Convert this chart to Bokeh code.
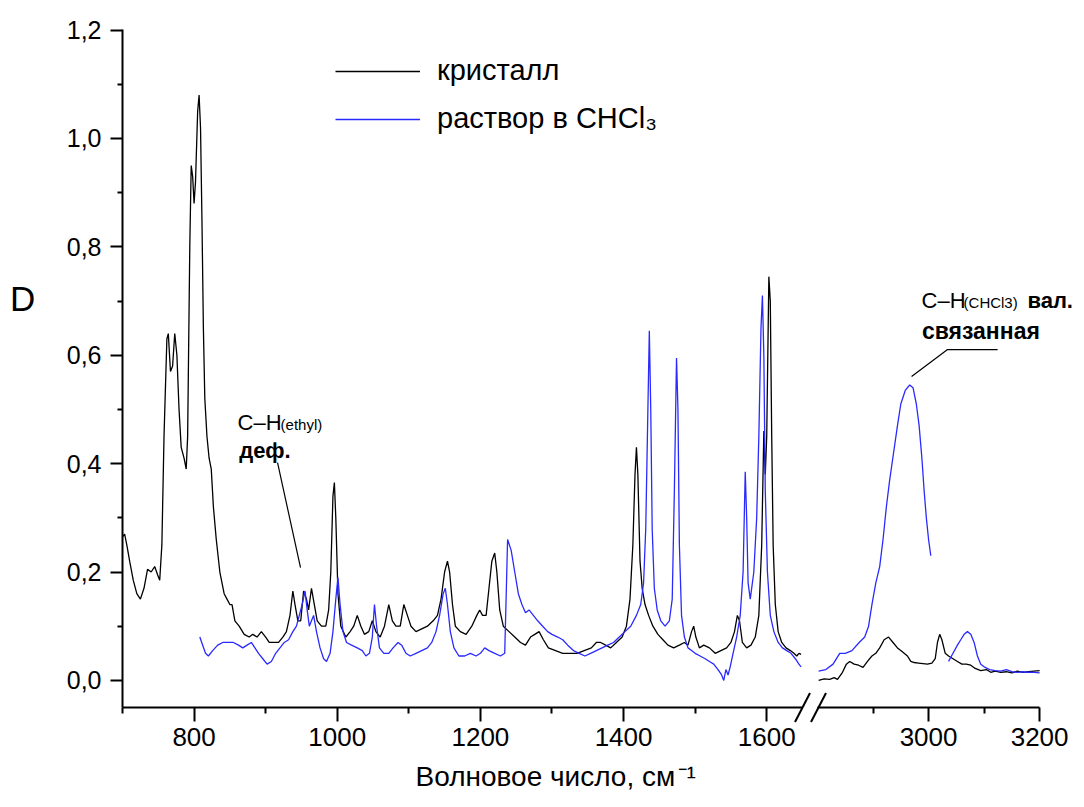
import math
from bokeh.plotting import figure
from bokeh.models import (Range1d, FixedTicker, CustomJSTickFormatter, Label, Legend, LegendItem,
                          Title, Div)
from bokeh.layouts import row
from bokeh.embed import file_html
from bokeh.resources import INLINE

NaN = float("nan")
FONT = "Liberation Sans"

# ---------------- data ----------------
black_left_wn = [700, 703, 706, 710, 715, 720, 725, 730, 735, 740, 745, 749, 752, 755, 758, 762, 764, 767, 770,
                 773, 776, 779, 782, 786, 789, 791, 794, 796, 798, 800, 802, 805, 807, 809, 811, 813, 815, 818,
                 821, 824, 827, 831, 836, 842, 846, 850, 853, 857, 863, 870, 877, 882, 888, 894, 900, 905, 912,
                 918, 924, 929, 934, 938, 941, 945, 949, 953, 957, 960, 964, 968, 972, 978, 984, 988, 991, 994,
                 996, 998, 1001, 1005, 1012, 1018, 1023, 1028, 1033, 1038, 1044, 1049, 1054, 1060, 1066, 1072,
                 1077, 1082, 1088, 1093, 1098, 1103, 1110, 1118, 1126, 1134, 1140, 1145, 1150, 1154, 1157, 1161,
                 1165, 1172, 1180, 1188, 1195, 1199, 1203, 1208, 1212, 1216, 1220, 1223, 1227, 1232, 1240, 1248,
                 1256, 1263, 1270, 1276, 1282, 1288, 1295, 1305, 1315, 1325, 1335, 1345, 1355, 1362, 1368, 1375,
                 1382, 1390, 1398, 1404, 1409, 1413, 1416, 1418, 1420, 1423, 1426, 1430, 1435, 1441, 1448, 1455,
                 1462, 1470, 1478, 1485, 1490, 1495, 1498, 1501, 1506, 1512, 1520, 1528, 1536, 1544, 1550, 1555,
                 1559, 1562, 1566, 1572, 1578, 1584, 1589, 1593, 1596, 1598, 1600, 1603, 1605, 1607, 1609, 1612,
                 1616, 1621, 1627, 1633, 1638, 1642, 1645, 1648]
black_left_d = [0.265, 0.27, 0.25, 0.22, 0.185, 0.16, 0.15, 0.17, 0.205, 0.2, 0.21, 0.195, 0.185, 0.25, 0.45, 0.63,
                0.64, 0.57, 0.58, 0.64, 0.6, 0.5, 0.43, 0.41, 0.39, 0.45, 0.8, 0.95, 0.93, 0.88, 0.92, 1.05, 1.08,
                1.02, 0.85, 0.65, 0.52, 0.45, 0.41, 0.39, 0.32, 0.26, 0.2, 0.16, 0.15, 0.14, 0.14, 0.11, 0.1,
                0.085, 0.08, 0.085, 0.08, 0.09, 0.08, 0.07, 0.07, 0.07, 0.08, 0.09, 0.12, 0.165, 0.14, 0.11, 0.11,
                0.165, 0.15, 0.13, 0.17, 0.14, 0.11, 0.1, 0.1, 0.13, 0.2, 0.34, 0.365, 0.3, 0.16, 0.1, 0.08, 0.09,
                0.1, 0.12, 0.1, 0.085, 0.09, 0.11, 0.09, 0.08, 0.1, 0.14, 0.11, 0.1, 0.1, 0.14, 0.12, 0.1, 0.09,
                0.095, 0.1, 0.11, 0.12, 0.15, 0.2, 0.22, 0.2, 0.14, 0.1, 0.09, 0.085, 0.1, 0.12, 0.13, 0.12, 0.12,
                0.17, 0.22, 0.235, 0.2, 0.13, 0.1, 0.09, 0.08, 0.07, 0.065, 0.08, 0.085, 0.09, 0.075, 0.06, 0.055,
                0.05, 0.05, 0.05, 0.055, 0.06, 0.07, 0.07, 0.065, 0.06, 0.07, 0.08, 0.1, 0.15, 0.25, 0.38, 0.43,
                0.38, 0.22, 0.17, 0.14, 0.12, 0.1, 0.085, 0.075, 0.065, 0.06, 0.065, 0.07, 0.065, 0.09, 0.1, 0.08,
                0.06, 0.065, 0.06, 0.05, 0.055, 0.06, 0.07, 0.09, 0.12, 0.11, 0.07, 0.06, 0.065, 0.08, 0.12, 0.25,
                0.46, 0.38, 0.45, 0.745, 0.7, 0.45, 0.25, 0.14, 0.09, 0.07, 0.06, 0.055, 0.05, 0.045, 0.05, 0.048]

blue_left_wn = [808, 812, 816, 820, 826, 833, 840, 848, 855, 862, 868, 874, 880, 885, 890, 896, 902, 908, 914, 920,
                926, 932, 938, 943, 947, 951, 955, 958, 961, 964, 967, 971, 976, 981, 985, 990, 994, 998, 1001,
                1004, 1008, 1013, 1020, 1028, 1035, 1040, 1045, 1049, 1052, 1055, 1059, 1065, 1072, 1078, 1085,
                1090, 1096, 1102, 1110, 1118, 1126, 1132, 1138, 1143, 1148, 1151, 1154, 1158, 1163, 1170, 1178,
                1186, 1194, 1200, 1206, 1212, 1220, 1228, 1234, 1238, 1243, 1248, 1253, 1258, 1263, 1268, 1274,
                1280, 1287, 1294, 1300, 1308, 1315, 1322, 1330, 1338, 1346, 1354, 1362, 1370, 1378, 1386, 1394,
                1402, 1410, 1418, 1424, 1428, 1431, 1434, 1436, 1438, 1440, 1443, 1447, 1452, 1458, 1464, 1468,
                1471, 1474, 1476, 1478, 1481, 1485, 1490, 1495, 1500, 1507, 1514, 1520, 1526, 1532, 1537, 1540,
                1543, 1546, 1549, 1553, 1558, 1563, 1567, 1570, 1572, 1574, 1577, 1582, 1586, 1589, 1592, 1594,
                1596, 1598, 1601, 1605, 1610, 1616, 1622, 1628, 1634, 1640, 1645, 1648]
blue_left_d = [0.08, 0.065, 0.05, 0.045, 0.055, 0.065, 0.07, 0.07, 0.07, 0.065, 0.06, 0.065, 0.07, 0.06, 0.05,
               0.04, 0.03, 0.035, 0.05, 0.06, 0.07, 0.075, 0.09, 0.1, 0.12, 0.14, 0.165, 0.13, 0.1, 0.11, 0.12,
               0.09, 0.06, 0.04, 0.035, 0.05, 0.09, 0.15, 0.19, 0.14, 0.09, 0.07, 0.065, 0.06, 0.055, 0.045, 0.05,
               0.08, 0.14, 0.1, 0.06, 0.05, 0.05, 0.06, 0.07, 0.065, 0.05, 0.045, 0.05, 0.055, 0.06, 0.07, 0.09,
               0.12, 0.16, 0.17, 0.14, 0.09, 0.06, 0.045, 0.045, 0.05, 0.045, 0.05, 0.06, 0.055, 0.05, 0.045, 0.05,
               0.26, 0.24, 0.2, 0.16, 0.14, 0.125, 0.13, 0.12, 0.11, 0.1, 0.09, 0.085, 0.08, 0.075, 0.065, 0.055,
               0.05, 0.045, 0.05, 0.055, 0.06, 0.065, 0.07, 0.08, 0.09, 0.1, 0.12, 0.14, 0.18, 0.28, 0.5, 0.645,
               0.5, 0.28, 0.17, 0.13, 0.11, 0.1, 0.11, 0.15, 0.35, 0.595, 0.5, 0.25, 0.12, 0.08, 0.06, 0.055, 0.05,
               0.045, 0.04, 0.035, 0.03, 0.02, 0.01, 0.0, 0.02, 0.01, 0.025, 0.05, 0.08, 0.12, 0.2, 0.385, 0.3,
               0.18, 0.15, 0.2, 0.3, 0.45, 0.65, 0.71, 0.6, 0.35, 0.2, 0.12, 0.09, 0.07, 0.06, 0.055, 0.05, 0.04,
               0.03, 0.025]

black_right_wn = [2802, 2812, 2822, 2830, 2836, 2845, 2852, 2858, 2866, 2874, 2882, 2890, 2898, 2905, 2912, 2920,
                  2928, 2936, 2944, 2950, 2956, 2962, 2968, 2974, 2982, 2990, 2998, 3006, 3012, 3016, 3020, 3024,
                  3030, 3036, 3044, 3052, 3060, 3068, 3076, 3084, 3094, 3104, 3112, 3120, 3130, 3140, 3150, 3160,
                  3170, 3180, 3190, 3200]
black_right_d = [0.0, 0.003, 0.002, 0.005, 0.002, 0.015, 0.03, 0.035, 0.03, 0.028, 0.024, 0.035, 0.045, 0.05, 0.06,
                 0.075, 0.08, 0.07, 0.06, 0.055, 0.05, 0.045, 0.035, 0.033, 0.032, 0.031, 0.03, 0.032, 0.04, 0.07,
                 0.085, 0.075, 0.05, 0.045, 0.04, 0.035, 0.03, 0.03, 0.028, 0.022, 0.018, 0.02, 0.015, 0.017, 0.015,
                 0.016, 0.014, 0.017, 0.015, 0.016, 0.017, 0.018]

blue_right_wn = [2802, 2815, 2828, 2840, 2850, 2862, 2875, 2885, 2892, 2898, 2905, 2912, 2918, 2924, 2930, 2937,
                 2944, 2950, 2958, 2966, 2972, 2978, 2983, 2988, 2992, 2996, 3000, 3004, 3020,
                 3036, 3044, 3052, 3058, 3064, 3070, 3076, 3082, 3088, 3094, 3100, 3110, 3120, 3130, 3140, 3150,
                 3160, 3170, 3180, 3190, 3200]
blue_right_d = [0.017, 0.02, 0.03, 0.05, 0.05, 0.055, 0.07, 0.08, 0.1, 0.14, 0.18, 0.21, 0.26, 0.32, 0.37, 0.42,
                0.47, 0.51, 0.535, 0.545, 0.54, 0.51, 0.47, 0.41, 0.35, 0.3, 0.26, 0.23, NaN,
                0.035, 0.05, 0.065, 0.075, 0.085, 0.09, 0.085, 0.07, 0.045, 0.03, 0.025, 0.02, 0.018, 0.017, 0.02,
                0.016, 0.015, 0.016, 0.015, 0.015, 0.014]

y_ticks = [0.0, 0.2, 0.4, 0.6, 0.8, 1.0, 1.2]
y_minor = [0.1, 0.3, 0.5, 0.7, 0.9, 1.1]
x_left_ticks = [800, 1000, 1200, 1400, 1600]
x_left_minor = [700, 900, 1100, 1300, 1500]
x_right_ticks = [3000, 3200]
x_right_minor = [2900, 3100]

series_labels = ["кристалл", "раствор в CHCl₃"]
x_title = "Волновое число, см\u200a⁻¹"
y_title = "D"
BLACK = "#000000"
BLUE = "#2a2aff"

# ---------------- figures ----------------
H = 803
common = dict(height=H, output_backend="svg", toolbar_location=None,
              min_border_top=29, min_border_bottom=96)

left = figure(width=762, x_range=Range1d(700, 1650), y_range=Range1d(-0.05, 1.201),
              min_border_left=82, min_border_right=0, **common)
right = figure(width=265, x_range=Range1d(2800, 3270), y_range=left.y_range,
               y_axis_location=None, min_border_left=0, min_border_right=4, **common)

for p in (left, right):
    p.outline_line_color = None
    p.xgrid.visible = False
    p.ygrid.visible = False
    p.background_fill_alpha = 0
    p.border_fill_alpha = 0


def style_axis(ax, major_out, minor_out, size, standoff):
    ax.axis_line_width = 2
    ax.axis_line_color = "black"
    ax.major_tick_line_width = 2
    ax.minor_tick_line_width = 2
    ax.major_tick_in = 0
    ax.minor_tick_in = 0
    ax.major_tick_out = major_out
    ax.minor_tick_out = minor_out
    ax.major_label_text_font = FONT
    ax.major_label_text_font_size = size
    ax.major_label_text_color = "black"
    ax.major_label_standoff = standoff


style_axis(left.xaxis[0], 14, 6, "26px", 6)
style_axis(right.xaxis[0], 14, 6, "26px", 6)
style_axis(left.yaxis[0], 12, 5, "25px", 9)
left.xaxis[0].ticker = FixedTicker(ticks=x_left_ticks, minor_ticks=x_left_minor)
right.xaxis[0].ticker = FixedTicker(ticks=x_right_ticks, minor_ticks=x_right_minor)
right.xaxis[0].bounds = (2800, 3200)
left.yaxis[0].ticker = FixedTicker(ticks=y_ticks, minor_ticks=y_minor)
left.yaxis[0].formatter = CustomJSTickFormatter(code="return tick.toFixed(1).replace('.', ',');")

# ---------------- curves ----------------
r_black = left.line(black_left_wn, black_left_d, line_color=BLACK, line_width=1.3)
r_blue = left.line(blue_left_wn, blue_left_d, line_color=BLUE, line_width=1.3)
right.line(black_right_wn, black_right_d, line_color=BLACK, line_width=1.3)
right.line(blue_right_wn, blue_right_d, line_color=BLUE, line_width=1.3)

legend = Legend(items=[LegendItem(label=series_labels[0], renderers=[r_black]),
                       LegendItem(label=series_labels[1], renderers=[r_blue])],
                location=(213, 572), glyph_width=85, glyph_height=20, label_standoff=17, spacing=15,
                padding=0, margin=0, border_line_color=None, background_fill_alpha=0,
                label_text_font=FONT, label_text_font_size="29px", label_text_color="black")
left.add_layout(legend)

# x axis title (below panel of the left figure)
left.add_layout(Title(text=x_title, align="left", offset=293, standoff=20, text_font=FONT,
                      text_font_size="28px", text_font_style="normal", text_color="black"), "below")

# ---------------- in-plot texts ----------------
def lab(p, x, y, text, size, bold=False):
    p.add_layout(Label(x=x, y=y, text=text, text_font=FONT, text_font_size=size,
                       text_font_style="bold" if bold else "normal", text_color="black",
                       text_baseline="alphabetic", text_align="left"))

# C–H (ethyl) annotation
lab(left, 860.7, 0.476, "C–H", "22px")
lab(left, 920.8, 0.472, "(ethyl)", "15px")
lab(left, 863, 0.424, "деф.", "22px", bold=True)
ann1_x = [916.6, 948.7]
ann1_y = [0.402, 0.208]
left.line(ann1_x, ann1_y, line_color="black", line_width=1.2)

# C–H (CHCl3) annotation
lab(right, 2987.4, 0.701, "C–H", "22px")
lab(right, 3063, 0.697, "(CHCl3)", "15px")
lab(right, 3178, 0.701, "вал.", "22px", bold=True)
lab(right, 2988, 0.6455, "связанная", "23px", bold=True)
ann2_x = [2969.4, 3034.2, 3124.3]
ann2_y = [0.5607, 0.6105, 0.6105]
right.line(ann2_x, ann2_y, line_color="black", line_width=1.2)

# ---------------- side pieces ----------------
d_div = Div(text=("<div style=\"padding-top:282px;padding-left:10px;font-family:'Liberation Sans';"
                  "font-size:35px;line-height:34px;color:black\">%s</div>" % y_title),
            width=40, height=H, margin=(0, 0, 0, 0))

break_svg = ("<svg width='15' height='%d' style='overflow:visible;display:block'>"
             "<line x1='-7' y1='722' x2='8' y2='693' stroke='black' stroke-width='2'/>"
             "<line x1='9' y1='722' x2='24' y2='693' stroke='black' stroke-width='2'/></svg>" % H)
br_div = Div(text=break_svg, width=15, height=H, margin=(0, 0, 0, 0),
             styles={"overflow": "visible", "z-index": "5"})

layout = row(d_div, left, br_div, right, spacing=0)
open("out.html", "w").write(file_html(layout, INLINE))
